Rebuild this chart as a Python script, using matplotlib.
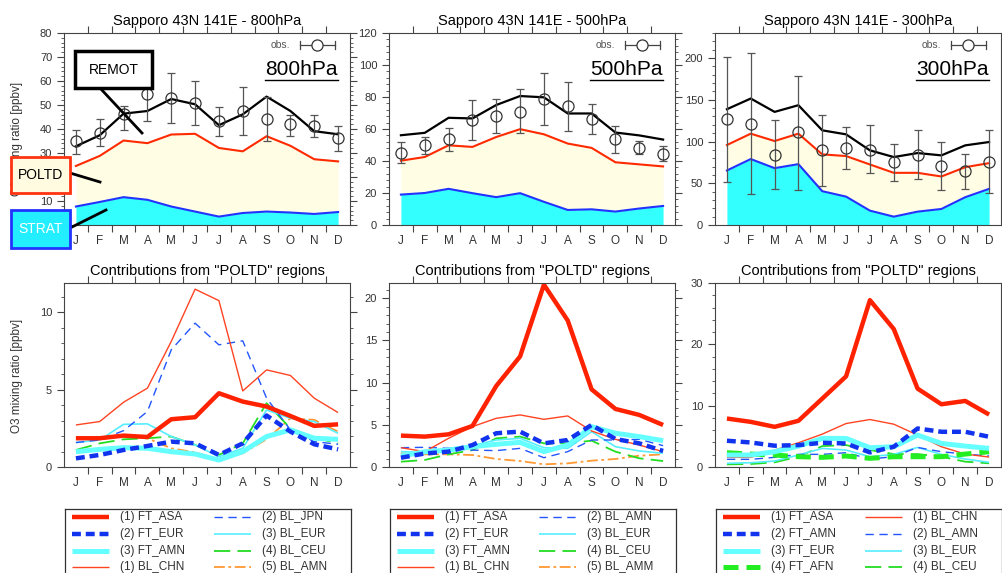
import matplotlib
matplotlib.use("Agg")
import matplotlib.pyplot as plt
from matplotlib.ticker import MultipleLocator, AutoMinorLocator, FixedLocator, FixedFormatter, NullFormatter
from matplotlib.patches import Rectangle
from matplotlib.lines import Line2D
import numpy as np

plt.rcParams["font.family"] = ["Liberation Sans", "DejaVu Sans"]

W, H = 1003, 573

months = ["J", "F", "M", "A", "M", "J", "J", "A", "S", "O", "N", "D"]
x = np.arange(1, 13)

# -------------------------
# TOP ROW: budget + obs
# -------------------------
remot_800 = [32.8, 37.4, 46.4, 47.5, 52.5, 50.3, 41.6, 46.1, 53.5, 47.5, 39.1, 37.8]
poltd_800 = [24.6, 28.8, 35.2, 34.1, 37.7, 38.0, 32.1, 30.7, 37.0, 33.0, 27.4, 26.5]
strat_800 = [7.7, 9.6, 11.6, 10.5, 7.7, 5.6, 3.5, 5.0, 5.6, 5.2, 4.6, 5.4]
obs_800 = [34.9, 38.5, 46.1, 54.7, 53.0, 51.0, 43.3, 47.5, 44.1, 41.9, 41.2, 36.3]
obs_hi_800 = [39.5, 44.1, 49.7, 66.0, 63.5, 60.0, 49.3, 57.7, 53.5, 46.0, 45.7, 41.3]
obs_lo_800 = [29.7, 32.8, 39.5, 43.4, 42.3, 41.5, 37.0, 37.3, 35.0, 37.0, 36.7, 30.7]

remot_500 = [56.1, 57.6, 67.0, 66.6, 75.0, 80.6, 79.8, 69.7, 69.7, 57.8, 56.0, 53.4]
poltd_500 = [40.2, 42.5, 49.8, 48.8, 55.0, 59.9, 56.7, 50.9, 48.2, 39.2, 37.9, 36.6]
strat_500 = [19.0, 20.0, 22.6, 19.9, 17.4, 19.9, 14.5, 9.4, 9.8, 8.4, 10.3, 11.9]
obs_500 = [45.2, 49.8, 54.0, 65.5, 68.0, 70.8, 78.7, 74.3, 66.4, 53.8, 48.2, 44.6]
obs_hi_500 = [52.0, 55.0, 60.7, 78.0, 78.6, 84.8, 94.9, 89.6, 75.8, 61.6, 52.6, 49.4]
obs_lo_500 = [38.5, 44.5, 46.0, 53.0, 57.6, 57.6, 62.8, 58.8, 56.8, 45.2, 44.4, 39.8]

remot_300 = [138.7, 151.5, 135.5, 143.5, 113.4, 108.6, 89.4, 81.4, 86.2, 83.4, 95.4, 99.4]
poltd_300 = [95.8, 109.4, 100.6, 109.4, 84.6, 82.6, 72.5, 62.5, 62.5, 58.1, 69.3, 74.1]
strat_300 = [65.3, 79.0, 68.1, 72.9, 40.5, 34.0, 17.2, 10.0, 16.0, 19.2, 33.3, 43.3]
obs_300 = [127.5, 121.4, 84.2, 111.0, 89.4, 92.2, 90.2, 75.0, 84.2, 70.5, 64.5, 75.4]
obs_hi_300 = [200.8, 206.4, 126.3, 178.4, 131.5, 117.8, 120.2, 97.4, 114.2, 99.4, 85.4, 113.4]
obs_lo_300 = [52.0, 37.3, 43.3, 42.1, 47.3, 66.9, 62.1, 53.3, 55.3, 42.1, 43.3, 38.0]

# -------------------------
# BOTTOM ROW: POLTD contributions
# -------------------------
c800_ft_asa = [1.86, 1.86, 2.03, 1.94, 3.09, 3.22, 4.77, 4.23, 3.91, 3.30, 2.66, 2.76]
c800_ft_eur = [0.56, 0.78, 1.10, 1.36, 1.64, 1.53, 0.78, 1.53, 3.33, 2.29, 1.47, 1.14]
c800_ft_amn = [0.99, 1.14, 1.25, 1.21, 0.99, 0.84, 0.45, 0.99, 1.97, 2.40, 1.86, 1.79]
c800_bl_chn = [2.72, 2.94, 4.19, 5.10, 8.12, 11.5, 10.76, 4.92, 6.28, 5.92, 4.45, 3.52]
c800_bl_jpn = [1.58, 1.75, 2.35, 3.59, 7.58, 9.30, 7.90, 8.16, 4.45, 2.40, 1.64, 1.47]
c800_bl_eur = [1.58, 1.75, 2.76, 2.79, 1.97, 1.43, 0.67, 1.21, 3.69, 3.15, 2.94, 2.18]
c800_bl_ceu = [1.10, 1.53, 1.79, 1.86, 1.97, 1.43, 0.78, 1.53, 4.13, 2.50, 1.90, 1.53]
c800_bl_amn = [1.86, 1.81, 1.97, 1.86, 1.21, 0.95, 0.45, 0.89, 1.79, 3.15, 3.05, 2.29]

c500_ft_asa = [3.72, 3.60, 3.87, 4.86, 9.60, 13.1, 21.6, 17.35, 9.20, 6.88, 6.17, 4.98]
c500_ft_eur = [1.10, 1.60, 1.82, 2.60, 4.00, 4.19, 2.80, 3.20, 4.98, 3.32, 2.80, 1.90]
c500_ft_amn = [1.30, 1.80, 2.00, 2.41, 2.69, 2.92, 1.82, 2.60, 4.78, 4.00, 3.60, 3.12]
c500_bl_chn = [2.29, 1.82, 3.40, 4.78, 5.77, 6.17, 5.65, 6.05, 4.27, 3.28, 2.60, 1.82]
c500_bl_amn = [2.29, 2.33, 2.21, 2.00, 1.94, 2.21, 1.10, 1.82, 3.20, 3.20, 3.28, 2.53]
c500_bl_eur = [1.82, 1.74, 2.21, 2.53, 3.20, 3.40, 2.29, 2.21, 4.19, 2.41, 1.90, 1.62]
c500_bl_ceu = [0.63, 0.83, 1.50, 2.00, 3.40, 3.60, 2.80, 2.80, 3.12, 1.82, 1.03, 0.71]
c500_bl_amm = [1.62, 1.50, 1.50, 1.42, 0.95, 0.71, 0.32, 0.43, 0.75, 0.95, 1.34, 1.50]

c300_ft_asa = [7.90, 7.36, 6.55, 7.53, 11.15, 14.78, 27.2, 22.5, 12.78, 10.23, 10.77, 8.55]
c300_ft_amn = [4.28, 4.00, 3.47, 3.57, 3.95, 3.84, 2.38, 3.30, 6.28, 5.74, 5.74, 4.93]
c300_ft_eur = [1.95, 1.95, 2.49, 3.41, 4.66, 4.66, 3.14, 3.30, 5.20, 3.84, 3.41, 3.03]
c300_ft_afn = [2.33, 2.11, 1.95, 1.68, 1.57, 1.79, 1.41, 1.68, 1.68, 1.68, 2.11, 2.49]
c300_bl_chn = [1.57, 1.57, 2.76, 3.95, 5.36, 7.09, 7.74, 6.98, 5.20, 3.30, 2.11, 1.62]
c300_bl_amn = [1.25, 1.25, 1.57, 2.06, 2.06, 2.33, 1.30, 1.68, 3.19, 2.49, 2.11, 1.79]
c300_bl_eur = [0.60, 0.70, 0.97, 1.95, 3.03, 2.76, 1.68, 2.06, 3.19, 2.06, 1.30, 0.76]
c300_bl_ceu = [0.43, 0.49, 0.76, 1.68, 3.41, 3.57, 2.76, 2.11, 2.11, 1.68, 0.87, 0.60]

# line styles
thick_red = dict(color="#ff2200", lw=3.2, ls="-")
thin_red = dict(color="#ff4422", lw=1.0, ls="-")
thick_blue = dict(color="#1133ee", lw=3.2, ls=(0, (2.0, 1.1)))
thin_blue = dict(color="#2255ff", lw=1.0, ls=(0, (6, 4)))
thick_cyan = dict(color="#66ffff", lw=3.6, ls="-")
thin_cyan = dict(color="#55eeff", lw=1.2, ls="-")
thin_green = dict(color="#22dd22", lw=1.3, ls=(0, (9, 4)))
thick_green = dict(color="#22ee22", lw=3.6, ls=(0, (3, 1.6)))
thin_orange = dict(color="#ff9933", lw=1.3, ls=(0, (6, 2, 1.5, 2)))

top_rows = [
    ("800hPa", remot_800, poltd_800, strat_800, obs_800, obs_lo_800, obs_hi_800, 80, 10),
    ("500hPa", remot_500, poltd_500, strat_500, obs_500, obs_lo_500, obs_hi_500, 120, 20),
    ("300hPa", remot_300, poltd_300, strat_300, obs_300, obs_lo_300, obs_hi_300, 230, 50),
]

bottom_rows = [
    ([("(1) FT_ASA", c800_ft_asa, thick_red), ("(2) FT_EUR", c800_ft_eur, thick_blue),
      ("(3) FT_AMN", c800_ft_amn, thick_cyan), ("(1) BL_CHN", c800_bl_chn, thin_red),
      ("(2) BL_JPN", c800_bl_jpn, thin_blue), ("(3) BL_EUR", c800_bl_eur, thin_cyan),
      ("(4) BL_CEU", c800_bl_ceu, thin_green), ("(5) BL_AMN", c800_bl_amn, thin_orange)], 11.9, 5),
    ([("(1) FT_ASA", c500_ft_asa, thick_red), ("(2) FT_EUR", c500_ft_eur, thick_blue),
      ("(3) FT_AMN", c500_ft_amn, thick_cyan), ("(1) BL_CHN", c500_bl_chn, thin_red),
      ("(2) BL_AMN", c500_bl_amn, thin_blue), ("(3) BL_EUR", c500_bl_eur, thin_cyan),
      ("(4) BL_CEU", c500_bl_ceu, thin_green), ("(5) BL_AMM", c500_bl_amm, thin_orange)], 21.8, 5),
    ([("(1) FT_ASA", c300_ft_asa, thick_red), ("(2) FT_AMN", c300_ft_amn, thick_blue),
      ("(3) FT_EUR", c300_ft_eur, thick_cyan), ("(4) FT_AFN", c300_ft_afn, thick_green),
      ("(1) BL_CHN", c300_bl_chn, thin_red), ("(2) BL_AMN", c300_bl_amn, thin_blue),
      ("(3) BL_EUR", c300_bl_eur, thin_cyan), ("(4) BL_CEU", c300_bl_ceu, thin_green)], 30, 10),
]

col_left = [64, 389, 715]
col_w = 286
TXT = "#333333"


def px_rect(left, top, width, height):
    return [left / W, 1 - (top + height) / H, width / W, height / H]


def style_axis(ax, ymax, ystep):
    ax.set_xlim(0.5, 12.5)
    ax.set_ylim(0, ymax)
    ax.xaxis.set_major_locator(FixedLocator(np.arange(1.5, 12, 1.0)))
    ax.xaxis.set_major_formatter(NullFormatter())
    ax.xaxis.set_minor_locator(FixedLocator(x))
    ax.xaxis.set_minor_formatter(FixedFormatter(months))
    ax.xaxis.set_tick_params(which="major", direction="out", length=5, width=0.8,
                             top=True, bottom=True, color="#444444")
    ax.xaxis.set_tick_params(which="minor", length=0, pad=7, labelsize=8.5, labelcolor=TXT)
    ax.yaxis.set_major_locator(MultipleLocator(ystep))
    ax.yaxis.set_minor_locator(AutoMinorLocator(5))
    ax.yaxis.set_tick_params(which="major", direction="out", length=5, width=0.8,
                             left=True, right=True, labelsize=8, labelcolor=TXT, color="#444444")
    ax.yaxis.set_tick_params(which="minor", direction="out", length=2.5, width=0.6,
                             left=True, right=True, color="#444444")
    for sp in ax.spines.values():
        sp.set_linewidth(0.8)
        sp.set_color("#444444")


fig = plt.figure(figsize=(W / 100, H / 100), dpi=100)

level_texts = []
for i, (lev, remot, poltd, strat, obs, lo, hi, ymax, ystep) in enumerate(top_rows):
    ax = fig.add_axes(px_rect(col_left[i], 33, col_w, 192))
    ax.fill_between(x, 0, strat, color="#33ffff", lw=0)
    ax.fill_between(x, strat, poltd, color="#fffde3", lw=0)
    ax.plot(x, strat, color="#2233ff", lw=1.5)
    ax.plot(x, poltd, color="#ff2a00", lw=1.5)
    ax.plot(x, remot, color="black", lw=1.6)
    obs_a = np.array(obs)
    ax.errorbar(x, obs_a, yerr=[obs_a - np.array(lo), np.array(hi) - obs_a],
                fmt="o", mfc="none", mec="#333333", ms=8, mew=0.9,
                ecolor="#555555", elinewidth=0.9, capsize=3, capthick=0.9, zorder=5)
    style_axis(ax, ymax, ystep)
    ax.set_title(f"Sapporo 43N 141E - {lev}", fontsize=10.5, pad=6)

    # obs. key
    ax.text(0.79, 0.9375, "obs.", transform=ax.transAxes, ha="right", va="center",
            fontsize=7.5, color="#555555")
    ax.plot([0.825, 0.948], [0.9375, 0.9375], transform=ax.transAxes, color="#444444", lw=0.9)
    for cx in (0.825, 0.948):
        ax.plot([cx, cx], [0.915, 0.96], transform=ax.transAxes, color="#444444", lw=0.9)
    ax.plot([0.885], [0.9375], "o", transform=ax.transAxes, mfc="white", mec="#333333",
            ms=8, mew=0.9)
    t = ax.text(0.958, 0.781, lev, transform=ax.transAxes, ha="right", va="baseline",
                fontsize=15, color="black")
    level_texts.append((ax, t))

fig.text(17 / W, 1 - 139 / H, "O3 mixing ratio [ppbv]", rotation=90, ha="center",
         va="center", fontsize=8.5, color=TXT)

for i, (series, ymax, ystep) in enumerate(bottom_rows):
    ax = fig.add_axes(px_rect(col_left[i], 283, col_w, 184))
    order = list(range(len(series)))[::-1]
    for k in order:
        label, vals, st = series[k]
        ax.plot(x, vals, color=st["color"], lw=st["lw"], ls=st["ls"],
                solid_capstyle="butt", dash_capstyle="butt")
    style_axis(ax, ymax, ystep)
    ax.set_title('Contributions from "POLTD" regions', fontsize=10.5, pad=6)

    # legend box
    lax = fig.add_axes(px_rect(col_left[i] + 1, 509, 286, 70))
    lax.set_xlim(0, 286)
    lax.set_ylim(70, 0)
    lax.set_xticks([])
    lax.set_yticks([])
    lax.spines["bottom"].set_visible(False)
    for sp in ("top", "left", "right"):
        lax.spines[sp].set_linewidth(0.9)
        lax.spines[sp].set_color("#333333")
    for k, (label, vals, st) in enumerate(series):
        col, row = divmod(k, 4)
        yy = 8 + row * 16.8
        x0 = 7 + col * 142
        lax.add_line(Line2D([x0, x0 + 37], [yy, yy], color=st["color"], lw=st["lw"],
                            ls=st["ls"], solid_capstyle="butt", dash_capstyle="butt"))
        lax.text(x0 + 48, yy, label, ha="left", va="center", fontsize=8.5, color=TXT)

fig.text(17 / W, 1 - 376 / H, "O3 mixing ratio [ppbv]", rotation=90, ha="center",
         va="center", fontsize=8.5, color=TXT)


# -------------------------
# REGION LABEL BOXES
# -------------------------
def fig_box(left, top, right, bottom, text, face, edge, tcolor, lw):
    r = Rectangle((left / W, 1 - bottom / H), (right - left) / W, (bottom - top) / H,
                  transform=fig.transFigure, facecolor=face, edgecolor=edge, lw=lw, zorder=20)
    fig.add_artist(r)
    fig.text((left + right) / 2 / W, 1 - (top + bottom) / 2 / H, text, ha="center",
             va="center", fontsize=10, color=tcolor, zorder=21)


def fig_line(p0, p1):
    fig.add_artist(Line2D([p0[0] / W, p1[0] / W], [1 - p0[1] / H, 1 - p1[1] / H],
                          transform=fig.transFigure, color="black", lw=2, zorder=19))


fig_line((100, 88), (142, 133))
fig_line((70, 173), (100, 182))
fig_line((70, 228), (106, 210))
fig_box(75, 51, 152, 88, "REMOT", "white", "black", "black", 2.5)
fig_box(11, 157, 70, 193, "POLTD", "#fffbe0", "#ff3311", "black", 2)
fig_box(11, 210, 70, 248, "STRAT", "#22eeff", "#2233ff", "white", 2)

# underline the level labels
fig.canvas.draw()
renderer = fig.canvas.get_renderer()
for ax, t in level_texts:
    bb = t.get_window_extent(renderer).transformed(ax.transAxes.inverted())
    ax.plot([bb.x0, bb.x1], [bb.y0 - 0.005, bb.y0 - 0.005], transform=ax.transAxes,
            color="black", lw=1.0, clip_on=False)

fig.savefig("out.png", dpi=100)
